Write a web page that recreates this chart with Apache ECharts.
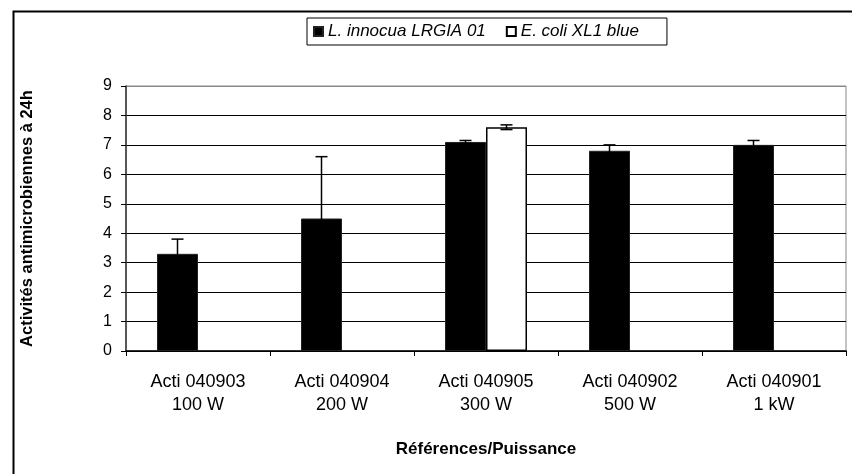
<!DOCTYPE html>
<html>
<head>
<meta charset="utf-8">
<script src="https://cdn.jsdelivr.net/npm/echarts@6/dist/echarts.min.js"></script>
<style>html,body{margin:0;padding:0;background:#fff}#c{width:852px;height:474px}</style>
</head>
<body>
<div id="c"></div>
<script>
const categories = ['Acti 040903\n100 W', 'Acti 040904\n200 W', 'Acti 040905\n300 W', 'Acti 040902\n500 W', 'Acti 040901\n1 kW'];
const seriesNames = ['L. innocua LRGIA 01', 'E. coli XL1 blue'];
const lInnocua = [3.3, 4.5, 7.1, 6.8, 7.0];
const lInnocuaErr = [0.5, 2.1, 0.05, 0.2, 0.15];
const eColi = [null, null, 7.6, null, null];
const eColiErr = [null, null, 0.08, null, null];
const yTicks = [0, 1, 2, 3, 4, 5, 6, 7, 8, 9];

const FONT = 'Arial, "Liberation Sans", sans-serif';
const BAR_W = 41;

function errData(vals, errs) {
  const out = [];
  vals.forEach((v, i) => {
    if (v != null && errs[i] != null) out.push([i, v - errs[i], v + errs[i]]);
  });
  return out;
}

function errRenderer(offset) {
  return function (params, api) {
    const lo = api.coord([api.value(0), api.value(1)]);
    const hi = api.coord([api.value(0), api.value(2)]);
    const x = lo[0] + offset;
    const cap = 6;
    const style = { stroke: '#000', lineWidth: 1.5 };
    return {
      type: 'group',
      children: [
        { type: 'line', shape: { x1: x, y1: lo[1], x2: x, y2: hi[1] }, style: style },
        { type: 'line', shape: { x1: x - cap, y1: hi[1], x2: x + cap, y2: hi[1] }, style: style },
        { type: 'line', shape: { x1: x - cap, y1: lo[1], x2: x + cap, y2: lo[1] }, style: style }
      ]
    };
  };
}

const chart = echarts.init(document.getElementById('c'), null, { renderer: 'canvas' });
const gridColors = yTicks.map((t, i) => i === yTicks.length - 1 ? '#888' : '#000');

chart.setOption({
  animation: false,
  backgroundColor: '#fff',
  textStyle: { fontFamily: FONT },
  graphic: [{
    type: 'rect', left: 11, top: 9, z: -10,
    shape: { width: 900, height: 520 },
    style: { fill: 'none', stroke: '#000', lineWidth: 2 }
  }],
  legend: {
    data: seriesNames,
    left: 307, top: 18,
    padding: [5, 28, 5, 6],
    borderColor: '#000', borderWidth: 1,
    itemWidth: 9, itemHeight: 9, itemGap: 20,
    icon: 'rect',
    textStyle: { fontStyle: 'italic', fontSize: 17, color: '#000', fontFamily: FONT, padding: [0, 0, 0, 0] }
  },
  grid: {
    left: 126, right: 6, top: 86, bottom: 123,
    show: true, borderColor: '#888', borderWidth: 1, backgroundColor: 'transparent'
  },
  xAxis: {
    type: 'category',
    data: categories,
    name: 'Références/Puissance',
    nameLocation: 'middle',
    nameGap: 90,
    nameTextStyle: { fontWeight: 'bold', fontSize: 17, color: '#000', fontFamily: FONT },
    axisLine: { lineStyle: { color: '#000', width: 1.5 } },
    axisTick: { show: true, length: 5, lineStyle: { color: '#000' } },
    axisLabel: { fontSize: 18, color: '#000', lineHeight: 23, margin: 20, fontFamily: FONT },
    splitLine: { show: false }
  },
  yAxis: {
    type: 'value',
    min: 0, max: 9, interval: 1,
    name: 'Activités antimicrobiennes à 24h',
    nameLocation: 'middle',
    nameGap: 90,
    nameTextStyle: { fontWeight: 'bold', fontSize: 16.5, color: '#000', fontFamily: FONT },
    axisLine: { show: true, lineStyle: { color: '#333', width: 1.5 } },
    axisTick: { show: true, length: 5, lineStyle: { color: '#000' } },
    axisLabel: { fontSize: 16, color: '#000', margin: 14, fontFamily: FONT },
    splitLine: { show: true, lineStyle: { color: gridColors, width: 1 } }
  },
  series: [
    {
      name: seriesNames[0], type: 'bar', data: lInnocua,
      barWidth: BAR_W, barGap: '0%',
      itemStyle: { color: '#000', borderColor: '#222', borderWidth: 1 }
    },
    {
      name: seriesNames[1], type: 'bar', data: eColi,
      barWidth: BAR_W, barGap: '0%',
      itemStyle: { color: '#fff', borderColor: '#000', borderWidth: 1.5 }
    },
    {
      type: 'custom', name: 'errL', data: errData(lInnocua, lInnocuaErr),
      renderItem: errRenderer(-BAR_W / 2), z: 10, silent: true,
      encode: { x: 0, y: [1, 2] }
    },
    {
      type: 'custom', name: 'errE', data: errData(eColi, eColiErr),
      renderItem: errRenderer(BAR_W / 2), z: 10, silent: true,
      encode: { x: 0, y: [1, 2] }
    }
  ]
});
</script>
</body>
</html>
